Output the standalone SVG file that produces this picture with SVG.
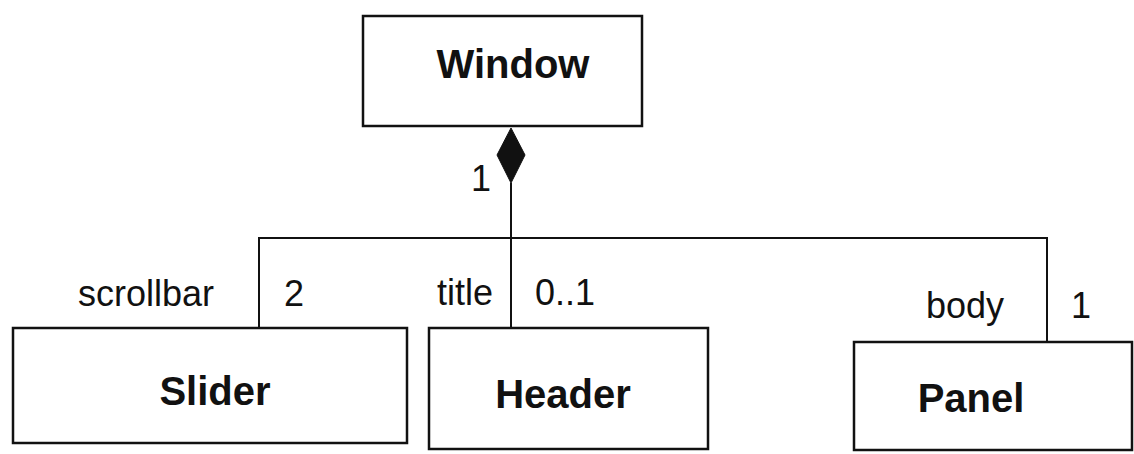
<svg xmlns="http://www.w3.org/2000/svg" width="1134" height="454" viewBox="0 0 1134 454">
<style>
.box{fill:#fff;stroke:#111;stroke-width:2.5}
.ln{fill:none;stroke:#111;stroke-width:2}
.nm{font-family:"Liberation Sans",Arial,sans-serif;font-weight:bold;font-size:40px;fill:#111;text-anchor:middle}
.lb{font-family:"Liberation Sans",Arial,sans-serif;font-size:36px;fill:#111;text-anchor:middle}
</style>
<rect width="1134" height="454" fill="#fff"/>
<g id="connectors">
<path class="ln" d="M511,183 V328"/>
<path class="ln" d="M259,328 V238 H1047 V342"/>
<polygon points="511,128 525,155 511,183 497,155" fill="#111" stroke="#111" stroke-width="1"/>
<text class="lb" x="481" y="191">1</text>
<text class="lb" x="146" y="306">scrollbar</text>
<text class="lb" x="294" y="306">2</text>
<text class="lb" x="465" y="305">title</text>
<text class="lb" x="565" y="305">0..1</text>
<text class="lb" x="965" y="318">body</text>
<text class="lb" x="1081" y="318">1</text>
</g>
<g id="window">
<rect class="box" x="363" y="16" width="279" height="110"/>
<text class="nm" x="513" y="78">Window</text>
</g>
<g id="slider">
<rect class="box" x="13" y="328" width="394" height="115"/>
<text class="nm" x="215" y="405">Slider</text>
</g>
<g id="header">
<rect class="box" x="429" y="328" width="279" height="121"/>
<text class="nm" x="563" y="408">Header</text>
</g>
<g id="panel">
<rect class="box" x="854" y="342" width="278" height="108"/>
<text class="nm" x="971" y="412">Panel</text>
</g>
</svg>
